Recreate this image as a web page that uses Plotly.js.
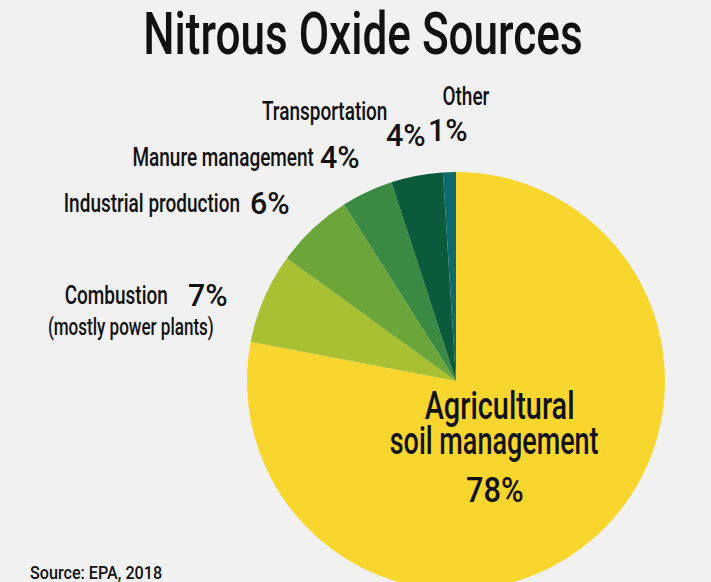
<!DOCTYPE html>
<html>
<head>
<meta charset="utf-8">
<script src="https://cdn.plot.ly/plotly-3.0.1.min.js"></script>
<style>
html,body{margin:0;padding:0;background:#f1f1f1;overflow:hidden;width:711px;height:582px;}
#chart{width:711px;height:600px;}
</style>
</head>
<body>
<div id="chart"></div>
<script>
const categories = ["Agricultural soil management", "Combustion (mostly power plants)", "Industrial production", "Manure management", "Transportation", "Other"];
const values = [78, 7, 6, 4, 4, 1];
const colors = ["#f9d62e", "#a9c032", "#6ca63a", "#3b8a44", "#0b5a3c", "#0f6a6c"];

const W = 711, H = 600;
const FONT = "Roboto";
const NARROW = 0.76;  // horizontal condensing to imitate a narrow typeface
const PCTSX = 0.98;
function px(x){ return x / W; }
function py(y){ return 1 - y / H; }
const scales = [];
function ann(text, x, y, size, xanchor, sx){
  scales.push(sx || NARROW);
  return {text: text, x: px(x), y: py(y), xref: "paper", yref: "paper",
    showarrow: false, xanchor: xanchor || "left", yanchor: "middle", borderpad: 0,
    font: {family: FONT, size: size, color: "#111", weight: 500}};
}

const pct = values.map(v => v + "%");

const trace = {
  type: "pie",
  labels: categories,
  values: values,
  sort: false,
  direction: "clockwise",
  rotation: 0,
  marker: {colors: colors, line: {width: 0}},
  textinfo: "none",
  hoverinfo: "label+percent",
  domain: {x: [px(247), px(665)], y: [py(590), py(172)]}
};

const layout = {
  width: W, height: H,
  margin: {l: 0, r: 0, t: 0, b: 0},
  paper_bgcolor: "#f1f1f1",
  showlegend: false,
  annotations: [
    ann("Nitrous Oxide Sources", 363, 34, 60, "center", 0.735),
    ann("Agricultural", 499, 406, 38, "center"),
    ann("soil management", 494, 441, 38, "center", 0.71),
    ann(pct[0], 495, 490, 35, "center", 0.88),
    ann("Combustion", 169, 295, 25, "right"),
    ann(pct[1], 187, 295, 31, "left", PCTSX),
    ann("(mostly power plants)", 215, 327, 24, "right", 0.71),
    ann("Industrial production", 241, 203, 25, "right"),
    ann(pct[2], 249, 203, 31, "left", PCTSX),
    ann("Manure management", 315, 157, 25, "right"),
    ann(pct[3], 319, 158, 31, "left", PCTSX),
    ann("Transportation", 324, 111, 25, "center"),
    ann(pct[4], 385, 135, 31, "left", PCTSX),
    ann("Other", 466, 97, 25, "center"),
    ann(pct[5], 427, 130, 31, "left", PCTSX),
    ann("Source: EPA, 2018", 29, 572, 19, "left", 0.85)
  ]
};

Plotly.newPlot("chart", [trace], layout, {displayModeBar: false, staticPlot: true}).then(function(){
  document.querySelectorAll("#chart .annotation").forEach(function(g){
    const i = +g.getAttribute("data-index");
    const t = g.querySelector("text.annotation-text");
    if(!t) return;
    const bb = t.getBBox();
    const a = layout.annotations[i].xanchor;
    const cx = a === "left" ? bb.x : (a === "right" ? bb.x + bb.width : bb.x + bb.width / 2);
    const prev = t.getAttribute("transform") || "";
    t.setAttribute("transform", prev + " translate(" + cx + ",0) scale(" + scales[i] + ",1) translate(" + (-cx) + ",0)");
  });
});
</script>
</body>
</html>
